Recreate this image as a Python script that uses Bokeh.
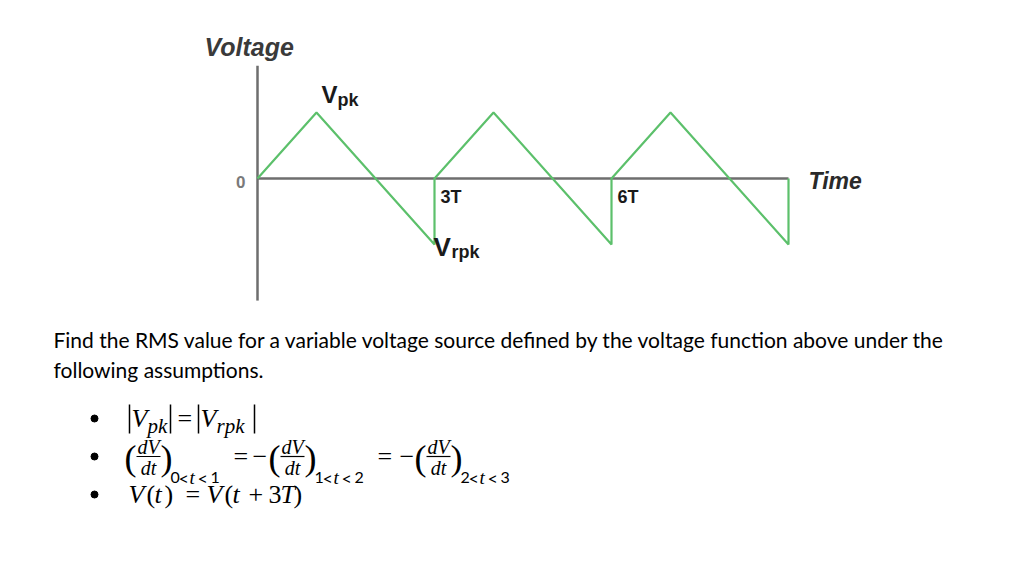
from bokeh.plotting import figure
from bokeh.models import Range1d
from bokeh.core.properties import value
from bokeh.embed import file_html
from bokeh.resources import INLINE

# ---- data (time in units of T, voltage in units of Vpk) ----
wave_t = [0, 1, 3, 3, 4, 6, 6, 7, 9, 9]
wave_v = [0, 1, -1, 0, 1, -1, 0, 1, -1, 0]
tick_pos = [3, 6]
tick_labels = ["3T", "6T"]
time_end = 9
volt_axis_top, volt_axis_bottom = 1.71, -1.85

question = ["Find the RMS value for a variable voltage source defined by the voltage function above under the",
            "following assumptions."]

# page-pixel helpers for placing annotation text
def X(px):
    return (px - 257) / 59.0

def Y(py):
    return (178 - py) / 66.0

W, H = 1008, 562
p = figure(width=W, height=H, output_backend="svg", toolbar_location=None,
           x_range=Range1d(X(0), X(W)), y_range=Range1d(Y(H), Y(0)),
           min_border=0, x_axis_location=None, y_axis_location=None,
           outline_line_color=None, background_fill_color="white",
           border_fill_color="white")
p.grid.visible = False

AX = "#6e6e6e"
GREEN = "#5cc06b"

# axes
p.line([0, 0], [volt_axis_bottom, volt_axis_top], line_color=AX, line_width=2.5)
p.line([0, time_end], [0, 0], line_color=AX, line_width=2.5)
# waveform
p.line(wave_t, wave_v, line_color=GREEN, line_width=2.2)

def txt(x, y, s, size, font="Liberation Sans", style="normal", color="#000000",
        align="left", baseline="middle"):
    p.text(x=[X(x)], y=[Y(y)], text=[s], text_font=value(font),
           text_font_size=f"{size}px", text_font_style=style, text_color=color,
           text_align=align, text_baseline=baseline)

# chart labels
txt(204, 46, "Voltage", 25, style="bold italic", color="#3a3a3a")
txt(808, 180, "Time", 23, style="bold italic", color="#2a2a2a")
txt(245, 181, "0", 17, style="bold", color="#7a7a7a", align="right")
for tp, tl in zip(tick_pos, tick_labels):
    p.text(x=[tp + X(438) - X(432)], y=[Y(196)], text=[tl], text_font=value("Liberation Sans"),
           text_font_size="18px", text_font_style="bold", text_color="#1a1a1a",
           text_align="left", text_baseline="middle")
# Vpk / Vrpk
txt(321, 94, "V", 24, style="bold", color="#1a1a1a")
txt(337, 99, "pk", 18, style="bold", color="#1a1a1a")
txt(433, 246, "V", 26, style="bold", color="#1a1a1a")
txt(451, 251, "rpk", 18, style="bold", color="#1a1a1a")

# question text
txt(53, 339, question[0], 21, font="Lato")
txt(53, 369, question[1], 21, font="Lato")

# bullets
for by in [418, 456, 494]:
    p.scatter([X(94)], [Y(by)], size=7, color="black")

MF = "Liberation Serif"
def m(x, y, s, size=26, italic=True, font=MF, align="left"):
    txt(x, y, s, size, font=font, style="italic" if italic else "normal", align=align)

def bar(x, y0=404, y1=433, w=1.5):
    p.segment([X(x)], [Y(y0)], [X(x)], [Y(y1)], line_color="black", line_width=w)

# line 1: |Vpk| = |Vrpk|
bar(129)
m(131, 418, "V")
m(147, 425, "pk", 21)
bar(170)
m(177, 418, "=", 26, italic=False)
bar(198)
m(200, 418, "V")
m(216, 425, "rpk", 21)
bar(254)

# line 2: derivative relations
def frac(cx):
    m(cx, 446, "dV", 20, align="center")
    p.segment([X(cx - 12)], [Y(456)], [X(cx + 12)], [Y(456)], line_color="black", line_width=1.2)
    m(cx, 467, "dt", 20, align="center")

def sub(x0, a, b):
    sy = 477
    m(x0, sy, a, 16, italic=False, font="Lato")
    m(x0 + 8, sy, "<", 18, italic=False, font="Lato")
    m(x0 + 19, sy, "t", 19)
    m(x0 + 27, sy, "<", 18, italic=False, font="Lato")
    m(x0 + 40, sy, b, 16, italic=False, font="Lato")

def paren_group(x0, a, b):
    m(x0, 457, "(", 36, italic=False)
    frac(x0 + 24)
    m(x0 + 36, 457, ")", 36, italic=False)
    sub(x0 + 46, a, b)

paren_group(124, "0", "1")
m(233, 456, "=", 26, italic=False)
m(252, 456, "\u2212", 26, italic=False)
paren_group(268, "1", "2")
m(377, 456, "=", 26, italic=False)
m(399, 456, "\u2212", 26, italic=False)
paren_group(414, "2", "3")

# line 3: V(t) = V(t + 3T)
ly = 494
m(128, ly, "V")
m(146, ly, "(", 26, italic=False)
m(154, ly, "t")
m(164, ly, ")", 26, italic=False)
m(185, ly, "=", 26, italic=False)
m(206, ly, "V")
m(224, ly, "(", 26, italic=False)
m(232, ly, "t")
m(248, ly, "+", 26, italic=False)
m(268, ly, "3", 26, italic=False)
m(280, ly, "T")
m(293, ly, ")", 26, italic=False)

open("out.html", "w").write(file_html(p, INLINE))
